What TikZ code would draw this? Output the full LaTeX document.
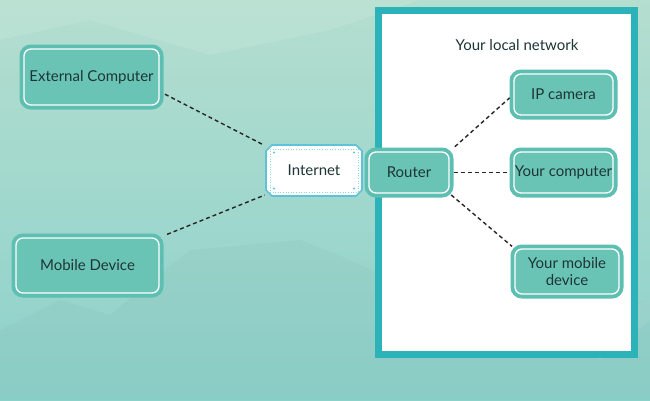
\documentclass[tikz,border=0pt]{standalone}
\usepackage{fontspec}
\setmainfont{Lato}
\usetikzlibrary{shapes.misc,calc}
\definecolor{bgtop}{HTML}{B4DECF}
\definecolor{bgbot}{HTML}{8DD1CB}
\definecolor{boxfill}{HTML}{6AC4B6}
\definecolor{boxrim}{HTML}{5DBFB1}
\definecolor{lanframe}{HTML}{2BB3B9}
\definecolor{netblue}{HTML}{5EC3D6}
\definecolor{ink}{HTML}{1E3535}
\begin{document}
\begin{tikzpicture}[x=1pt,y=-1pt,
            box/.style={draw=white, line width=1.3pt, fill=boxfill, rounded corners=7pt,
                preaction={draw=boxrim, line width=9pt}, text=ink,
                font=\fontsize{15}{17}\selectfont, inner sep=1pt, align=center},
            link/.style={dash pattern=on 4pt off 3pt, line width=1.4pt, black!85},
            every node/.style={text=ink}]
            % background
            \shade[top color=bgtop, bottom color=bgbot] (0,0) rectangle (650,400);
            \fill[white, opacity=.10] (0,40) -- (90,20) -- (210,55) -- (330,30) -- (420,0) -- (0,0) -- cycle;
            \fill[black!40!bgbot, opacity=.05] (0,400) -- (0,330) -- (60,300) -- (110,315) -- (140,290)
                -- (190,250) -- (300,240) -- (350,260) -- (500,330) -- (650,300) -- (650,400) -- cycle;
            \fill[white, opacity=.08] (650,320) -- (600,360) -- (560,330) -- (650,300) -- cycle;
            \useasboundingbox (0,0) rectangle (650,400);

            % local network frame
            \node[draw=lanframe, line width=7pt, fill=white,
                minimum width=256pt, minimum height=344pt] (lan) at (506.5,182.5) {};
            \node[font=\fontsize{15}{17}\selectfont] (lanlabel) at (517,45) {Your local network};

            \node[box, minimum width=135pt, minimum height=56pt] (extpc) at (91.5,77) {External Computer};
            \node[box, minimum width=143pt, minimum height=55pt] (mobile) at (87.5,265.5) {Mobile Device};

            \node[chamfered rectangle, chamfered rectangle xsep=3pt, chamfered rectangle ysep=3pt,
                draw=netblue, line width=1.6pt, fill=white, minimum width=96pt, minimum height=51pt,
                font=\fontsize{15}{17}\selectfont] (internet) at (314,170.5) {Internet};
            \node[draw=netblue!70, dotted, line width=.6pt, minimum width=88pt, minimum height=43pt] (netin) at (internet) {};
            \foreach \dx/\dy in {-40/-18, 40/-18, -40/18, 40/18}
                \fill[netblue] ($(internet)+(\dx,\dy)$) circle (1.1pt);

            \node[box, minimum width=80pt, minimum height=41pt] (router) at (409,172.5) {Router};

            \node[box, minimum width=99pt, minimum height=41pt] (ipcam) at (563.5,94.5) {IP camera};
            \node[box, minimum width=99pt, minimum height=41pt, inner sep=0pt] (mypc) at (563.5,172.5) {Your computer};
            \node[box, minimum width=104pt, minimum height=45pt] (mydev) at (567,271.5) {Your mobile\\device};

            \draw[link, shorten <=6pt, shorten >=5pt] (extpc.-12) -- (internet.north west);
            \draw[link, shorten <=8pt, shorten >=4pt] (mobile.north east) -- (internet.south west);
            \draw[link, shorten <=7pt, shorten >=5pt] (router.north east) -- (ipcam.west);
            \draw[link, shorten <=4pt, shorten >=6pt] (router.east) -- (mypc.west);
            \draw[link, shorten <=2pt, shorten >=3pt] (router.south east) -- (mydev.north west);
        \end{tikzpicture}
\end{document}
